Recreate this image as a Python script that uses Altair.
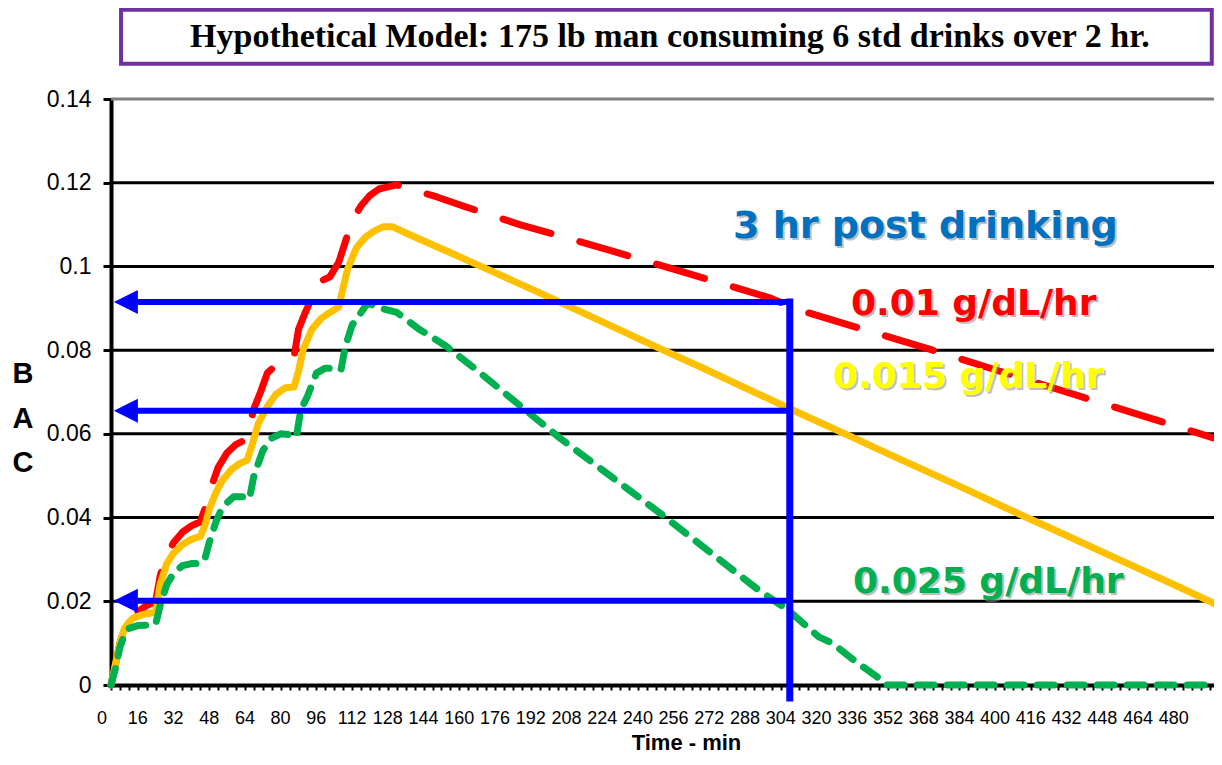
import altair as alt
import pandas as pd

# ---------------- data ----------------
# time in minutes, BAC in g/dL
red_t = [0, 2, 4, 6, 8, 12, 16, 20, 22, 24, 28, 32, 36, 40, 42, 44, 48, 52, 56, 60,
         62, 64, 67, 70, 74, 78, 82, 84, 87, 90, 94, 98, 102, 105, 108, 112, 116, 120,
         124, 128, 134, 146, 159, 183, 220, 258, 295, 308, 368, 432, 494]
red_v = [0.000, 0.005, 0.010, 0.0135, 0.0155, 0.0175, 0.019, 0.020, 0.026, 0.030, 0.034,
         0.0365, 0.038, 0.039, 0.042, 0.046, 0.052, 0.0555, 0.0575, 0.0585,
         0.062, 0.066, 0.070, 0.0745, 0.0765, 0.078, 0.0785, 0.085, 0.089, 0.0925, 0.0965,
         0.0975, 0.101, 0.106, 0.111, 0.1145, 0.117, 0.1185,
         0.119, 0.1195, 0.1185, 0.1166, 0.1142, 0.110, 0.1044, 0.0984, 0.0925, 0.0896,
         0.080, 0.0693, 0.059]

yellow_t = [0, 2, 4, 6, 8, 10, 14, 18, 20, 22, 25, 28, 32, 36, 40, 42, 44, 47, 50, 54, 58,
            61, 63, 66, 70, 74, 78, 82, 84, 86, 90, 94, 98, 102, 104, 106, 110, 114, 118,
            122, 126, 132, 146, 170, 194, 218, 242, 266, 290, 304, 330, 354, 378, 402,
            426, 450, 474, 494]
yellow_v = [0.000, 0.005, 0.010, 0.0135, 0.015, 0.016, 0.0168, 0.0172, 0.0175, 0.024,
            0.029, 0.0315, 0.0335, 0.0348, 0.0355, 0.038, 0.042, 0.046, 0.049, 0.0515,
            0.053, 0.0537, 0.057, 0.0625, 0.0665, 0.0695, 0.071, 0.0712, 0.075, 0.080,
            0.085, 0.0875, 0.089, 0.0903, 0.095, 0.0995, 0.1045, 0.107, 0.1085, 0.1095,
            0.1095, 0.108, 0.1047, 0.0990, 0.0932, 0.0873, 0.0813, 0.0755, 0.0695, 0.066,
            0.0597, 0.0538, 0.0480, 0.0420, 0.0362, 0.0303, 0.0245, 0.0195]

green_t = [0, 2, 4, 6, 8, 12, 16, 20, 22, 25, 28, 32, 36, 40, 42, 44, 47, 50, 55, 60, 62,
           64, 68, 72, 76, 80, 83, 85, 88, 92, 96, 100, 103, 105, 108, 112, 115, 119, 128,
           138, 150, 162, 201, 246, 290, 303, 317, 323, 335, 343, 347, 400, 494]
green_v = [0.000, 0.004, 0.009, 0.012, 0.0135, 0.0142, 0.0143, 0.0145, 0.019, 0.024,
           0.0267, 0.0285, 0.029, 0.029, 0.030, 0.034, 0.039, 0.0426, 0.045, 0.045, 0.0445,
           0.050, 0.056, 0.059, 0.060, 0.0598, 0.0593, 0.0657, 0.069, 0.0745, 0.0757,
           0.0757, 0.0753, 0.081, 0.086, 0.089, 0.0913, 0.0903, 0.089, 0.085, 0.081, 0.076,
           0.059, 0.041, 0.0227, 0.018, 0.0115, 0.010, 0.005, 0.002, 0.0, 0.0, 0.0]

# blue "3 hr post drinking" read-off lines
arrow_levels = [0.0915, 0.0655, 0.0201]
read_time = 304

# axis ticks / labels
y_ticks = [0, 0.02, 0.04, 0.06, 0.08, 0.10, 0.12, 0.14]
x_tick_labels = [0, 16, 32, 48, 64, 80, 96, 112, 128, 144, 160, 176, 192, 208, 224, 240,
                 256, 272, 288, 304, 320, 336, 352, 368, 384, 400, 416, 432, 448, 464, 480]
x_minor_ticks = list(range(0, 494, 4))
grid_levels = [0.02, 0.04, 0.06, 0.08, 0.10, 0.12]
top_level = [0.14]

title_text = "Hypothetical Model: 175 lb man consuming 6 std drinks over 2 hr."
heading_text = "3 hr post drinking"
rate_labels = ["0.01 g/dL/hr", "0.015 g/dL/hr", "0.025 g/dL/hr"]
rate_colors = ["#FF0000", "#FFFF00", "#00B050"]
side_letters = ["B", "A", "C"]

# ---------------- chart ----------------
W, H = 1103, 586
xs = alt.Scale(domain=[0, 494], nice=False, zero=False)
ys = alt.Scale(domain=[0, 0.14], nice=False, zero=False)

x_axis = alt.Axis(
    values=x_minor_ticks, labels=False,
    tickSize=5, tickWidth=2, tickColor="black",
    domainColor="black", domainWidth=4, grid=False,
    title="Time - min", titleFont="Liberation Sans", titleFontSize=22,
    titleFontWeight="bold", titleColor="black", titleX=575, titleY=64,
    titleAlign="center", titleBaseline="alphabetic",
)
y_axis = alt.Axis(
    values=y_ticks, format=".2~f",
    labelFont="Liberation Sans", labelFontSize=23, labelColor="black",
    labelPadding=12, tickSize=8, tickWidth=3, tickColor="black",
    domainColor="black", domainWidth=4, grid=False, title=None,
)

X = alt.X("t:Q", scale=xs, axis=x_axis)
Y = alt.Y("v:Q", scale=ys, axis=y_axis)

grid = alt.Chart(pd.DataFrame({"v": grid_levels})).mark_rule(
    color="black", strokeWidth=3).encode(y=Y)
top = alt.Chart(pd.DataFrame({"v": top_level})).mark_rule(
    color="#808080", strokeWidth=3).encode(y=Y)

# tick labels every 16 min, slightly down-left of their ticks
xlab = alt.Chart(pd.DataFrame({"t": x_tick_labels, "v": [-0.0082] * len(x_tick_labels)})).mark_text(
    font="Liberation Sans", fontSize=18, color="black",
    align="center", baseline="middle", dx=-9).encode(x=X, y=Y, text="t:Q")

title_box = alt.Chart(pd.DataFrame({"t": [4.5], "t2": [493.0], "v": [0.1613], "v2": [0.1484]})).mark_rect(
    fill="white", stroke="#7030A0", strokeWidth=4).encode(x=X, x2="t2:Q", y=Y, y2="v2:Q")
title_lbl = alt.Chart(pd.DataFrame({"t": [250.3], "v": [0.1548], "text": [title_text]})).mark_text(
    font="Liberation Serif", fontSize=34, fontWeight="bold", color="black",
    align="center", baseline="middle").encode(x=X, y=Y, text="text:N")

def curve(t, v, color, dash=None):
    kw = dict(color=color, strokeWidth=7, strokeCap="round", strokeJoin="round")
    if dash is not None:
        kw["strokeDash"] = dash
    return alt.Chart(pd.DataFrame({"t": t, "v": v})).mark_line(**kw).encode(x=X, y=Y)

red = curve(red_t, red_v, "#FF0000", [50, 30])
yellow = curve(yellow_t, yellow_v, "#FFC000")
green = curve(green_t, green_v, "#00B050", [17, 13])

shafts = alt.Chart(pd.DataFrame({"t": [6] * 3, "t2": [read_time] * 3, "v": arrow_levels})).mark_rule(
    color="#0000FF", strokeWidth=6).encode(x=X, x2="t2:Q", y=Y)
vertical = alt.Chart(pd.DataFrame({"t": [read_time], "v": [arrow_levels[0]], "v2": [-0.0031]})).mark_rule(
    color="#0000FF", strokeWidth=7, strokeCap="square").encode(x=X, y=Y, y2="v2:Q")
heads = alt.Chart(pd.DataFrame({"t": [1.3] * 3, "v": arrow_levels})).mark_point(
    shape="M0,0L2,-1L2,1Z", size=576, filled=True, color="#0000FF", opacity=1,
    strokeWidth=0).encode(x=X, y=Y)

ann = pd.DataFrame({
    "t": [278.6, 331.4, 323.4, 332.3],
    "v": [0.1094, 0.0910, 0.0736, 0.0246],
    "text": [heading_text] + rate_labels,
    "col": ["#0070C0"] + rate_colors,
    "size": [38, 36, 36, 36],
})
shadow = alt.Chart(ann).mark_text(
    font="DejaVu Sans", fontWeight="bold", align="left", baseline="middle",
    dx=2, dy=2, color="#8c8c8c", opacity=0.55).encode(
    x=X, y=Y, text="text:N", size=alt.Size("size:Q", scale=None))
texts = alt.Chart(ann).mark_text(
    font="DejaVu Sans", fontWeight="bold", align="left", baseline="middle").encode(
    x=X, y=Y, text="text:N", color=alt.Color("col:N", scale=None),
    size=alt.Size("size:Q", scale=None))

letters = alt.Chart(pd.DataFrame({"t": [-39.4] * 3, "v": [0.0743, 0.0636, 0.0530],
                                  "text": side_letters})).mark_text(
    font="Liberation Sans", fontSize=29, fontWeight="bold", color="black",
    align="center", baseline="middle").encode(x=X, y=Y, text="text:N")

chart = alt.layer(
    grid, top, title_box, title_lbl, red, yellow, green,
    shafts, vertical, heads, shadow, texts, letters, xlab,
).properties(
    width=W, height=H,
    padding={"left": 103, "top": 91, "right": 0, "bottom": 72},
    autosize=alt.AutoSizeParams(type="none"),
).configure_view(stroke=None).configure(background="white")

chart.save("out.html", embed_options={"renderer": "svg", "actions": False})
